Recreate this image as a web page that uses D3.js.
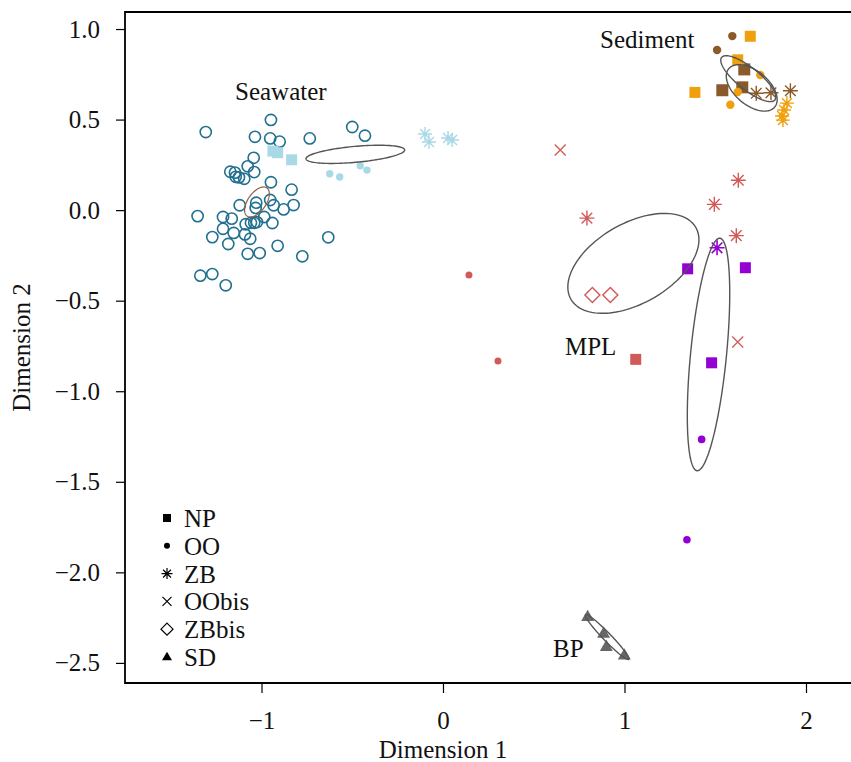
<!DOCTYPE html>
<html>
<head>
<meta charset="utf-8">
<script src="https://cdn.jsdelivr.net/npm/d3@7"></script>
<style>
  html, body { margin: 0; padding: 0; background: #fff; }
  svg { display: block; }
  text { font-family: "Liberation Serif", "Times New Roman", serif; }
</style>
</head>
<body>
<svg id="chart" width="851" height="762"></svg>
<script>
// ---------------- DATA ----------------
const xTicks = [-1, 0, 1, 2];
const yTicks = [1.0, 0.5, 0.0, -0.5, -1.0, -1.5, -2.0, -2.5];
const legendLabels = ["NP", "OO", "ZB", "OObis", "ZBbis", "SD"];
const groupLabels = ["Seawater", "Sediment", "MPL", "BP"];
const groupLabelPos = [[-1.146, 0.607], [0.865, 0.895], [0.672, -0.801], [0.606, -2.468]];

// Seawater – open circles
const seawaterOpen = [
  [-1.307,0.431],[-0.948,0.498],[-1.036,0.405],[-0.952,0.396],[-0.900,0.378],[-0.734,0.396],
  [-0.500,0.459],[-0.430,0.411],[-1.043,0.289],[-1.076,0.242],[-1.040,0.210],[-1.172,0.212],
  [-1.146,0.207],[-1.142,0.184],[-1.124,0.181],[-1.095,0.173],[-0.948,0.154],[-0.834,0.113],
  [-1.352,-0.033],[-1.120,0.027],[-1.029,0.041],[-1.032,0.012],[-0.952,0.056],[-0.933,0.027],
  [-0.878,0.004],[-0.823,0.028],[-1.212,-0.038],[-1.164,-0.047],[-0.985,-0.038],[-1.087,-0.078],
  [-1.058,-0.070],[-1.040,-0.070],[-1.025,-0.066],[-0.940,-0.071],[-1.212,-0.103],[-1.153,-0.126],
  [-1.091,-0.134],[-1.062,-0.158],[-1.271,-0.149],[-1.183,-0.187],[-0.911,-0.197],[-1.076,-0.241],
  [-1.010,-0.237],[-0.775,-0.255],[-0.632,-0.150],[-1.337,-0.362],[-1.271,-0.353],[-1.197,-0.415]
];
// Seawater – light blue
const seawaterNP = [[-0.937,0.326],[-0.911,0.317],[-0.834,0.278]];
const seawaterOO = [[-0.624,0.201],[-0.569,0.183],[-0.456,0.245],[-0.419,0.221]];
const seawaterZB = [[-0.099,0.420],[-0.077,0.376],[0.028,0.398],[0.050,0.387]];
// Sediment – brown
const sedBrownOO = [[1.594,0.961],[1.510,0.884]];
const sedBrownNP = [[1.660,0.777],[1.539,0.662],[1.649,0.678]];
const sedBrownZB = [[1.726,0.645],[1.807,0.648],[1.914,0.659]];
// Sediment – orange
const sedOrangeNP = [[1.693,0.960],[1.624,0.830],[1.388,0.650]];
const sedOrangeOO = [[1.748,0.746],[1.624,0.652],[1.583,0.582]];
const sedOrangeZB = [[1.895,0.591],[1.879,0.553],[1.868,0.520],[1.873,0.497]];
// MPL – red
const mplRedOObis = [[0.646,0.332],[1.624,-0.728]];
const mplRedZB = [[1.627,0.165],[1.495,0.032],[0.793,-0.044],[1.616,-0.141]];
const mplRedZBbis = [[0.823,-0.469],[0.922,-0.469]];
const mplRedOO = [[0.143,-0.358],[0.303,-0.833]];
const mplRedNP = [[1.062,-0.824]];
// MPL – purple
const mplPurpleNP = [[1.348,-0.324],[1.666,-0.318],[1.480,-0.843]];
const mplPurpleZB = [[1.510,-0.208]];
const mplPurpleOO = [[1.425,-1.266],[1.344,-1.820]];
// BP – grey triangles
const bpSD = [[0.797,-2.245],[0.885,-2.337],[0.900,-2.411],[0.999,-2.457]];

// Ellipses: [cx, cy, semi-major, semi-minor, angle (deg)]
const ellSeawaterA = [-0.483, 0.308, 0.273, 0.044, 5.2];
const ellSeawaterB = [-1.025, 0.045, 0.095, 0.050, 55];
const ellSedimentA = [1.682, 0.726, 0.188, 0.061, -38.7];
const ellSedimentB = [1.701, 0.675, 0.165, 0.094, -40];
const ellMPLRed = [1.049, -0.294, 0.397, 0.221, 30];
const ellMPLPurple = [1.463, -0.797, 0.645, 0.099, 84.4];
const ellBP = [0.904, -2.357, 0.171, 0.022, -46];

// ---------------- STYLE ----------------
const C = {
  teal: "#22708f", lightblue: "#a9d9e6", brown: "#8b5a2b", orange: "#f0a00c",
  red: "#d05a58", purple: "#9400d3", grey: "#686868", ell: "#555555", ellBrown: "#8f5f45"
};

const svg = d3.select("#chart");
const W = 851, H = 762;
const plot = { left: 125, top: 12, right: 853, bottom: 683 };

const x = d3.scaleLinear().domain([-1.752, 2.259]).range([plot.left, plot.right]);
const y = d3.scaleLinear().domain([-2.611, 1.094]).range([plot.bottom, plot.top]);

// shape path generators (pixel radius r)
const shapes = {
  square: r => `M${-r},${-r}h${2*r}v${2*r}h${-2*r}Z`,
  asterisk: r => {
    const d = r * Math.SQRT1_2;
    return `M${-r},0H${r}M0,${-r}V${r}M${-d},${-d}L${d},${d}M${-d},${d}L${d},${-d}`;
  },
  cross: r => `M${-r},${-r}L${r},${r}M${-r},${r}L${r},${-r}`,
  diamond: r => `M0,${-r}L${r},0L0,${r}L${-r},0Z`,
  triangle: r => { const h = r * 1.732; return `M0,${-h*0.62}L${r},${h*0.38}L${-r},${h*0.38}Z`; }
};

const gMarks = svg.append("g");

function drawCircles(data, r, color, filled, sw) {
  gMarks.append("g").selectAll("circle").data(data).join("circle")
    .attr("cx", d => x(d[0])).attr("cy", d => y(d[1])).attr("r", r)
    .attr("fill", filled ? color : "none")
    .attr("stroke", filled ? "none" : color)
    .attr("stroke-width", sw || 1.6);
}
function drawShape(data, shape, r, color, filled, sw) {
  gMarks.append("g").selectAll("path").data(data).join("path")
    .attr("transform", d => `translate(${x(d[0])},${y(d[1])})`)
    .attr("d", shapes[shape](r))
    .attr("fill", filled ? color : "none")
    .attr("stroke", filled ? "none" : color)
    .attr("stroke-width", sw || 1.3);
}
function drawEllipse(e, color, sw) {
  const [cx, cy, a, b, ang] = e;
  const t = ang * Math.PI / 180;
  const pts = d3.range(0, 361, 3).map(deg => {
    const s = deg * Math.PI / 180;
    const ux = a * Math.cos(s), vy = b * Math.sin(s);
    return [x(cx + ux * Math.cos(t) - vy * Math.sin(t)), y(cy + ux * Math.sin(t) + vy * Math.cos(t))];
  });
  svg.append("path").attr("d", d3.line().curve(d3.curveLinearClosed)(pts))
    .attr("fill", "none").attr("stroke", color).attr("stroke-width", sw || 1.4);
}

// Ellipses
drawEllipse(ellSeawaterA, C.ell);
drawEllipse(ellSeawaterB, C.ellBrown, 1.2);
drawEllipse(ellSedimentA, C.ell);
drawEllipse(ellSedimentB, C.ell);
drawEllipse(ellMPLRed, C.ell);
drawEllipse(ellMPLPurple, C.ell);
drawEllipse(ellBP, C.ell, 1.4);

// Seawater
drawCircles(seawaterOpen, 5.6, C.teal, false, 1.6);
drawShape(seawaterNP, "square", 5.5, C.lightblue, true);
drawCircles(seawaterOO, 3.7, C.lightblue, true);
drawShape(seawaterZB, "asterisk", 7, C.lightblue, false, 1.4);
// Sediment
drawCircles(sedBrownOO, 4.2, C.brown, true);
drawShape(sedBrownNP, "square", 6, C.brown, true);
drawShape(sedBrownZB, "asterisk", 7.5, C.brown, false, 1.4);
drawShape(sedOrangeNP, "square", 5.5, C.orange, true);
drawCircles(sedOrangeOO, 4.2, C.orange, true);
drawShape(sedOrangeZB, "asterisk", 7, C.orange, false, 1.4);
// MPL
drawShape(mplRedOObis, "cross", 5.5, C.red, false, 1.3);
drawShape(mplRedZB, "asterisk", 7.5, C.red, false, 1.4);
drawShape(mplRedZBbis, "diamond", 7.5, C.red, false, 1.4);
drawCircles(mplRedOO, 3.5, C.red, true);
drawShape(mplRedNP, "square", 5.5, C.red, true);
drawShape(mplPurpleNP, "square", 5.5, C.purple, true);
drawShape(mplPurpleZB, "asterisk", 7.5, C.purple, false, 1.6);
drawCircles(mplPurpleOO, 3.8, C.purple, true);
// BP
drawShape(bpSD, "triangle", 6.5, C.grey, true);

// Axes
const fontSize = 25;
const yAxis = d3.axisLeft(y).tickValues(yTicks).tickFormat(d3.format(".1f")).tickSize(9).tickPadding(16);
const gy = svg.append("g").attr("transform", `translate(${plot.left},0)`).call(yAxis);
const xAxis = d3.axisBottom(x).tickValues(xTicks).tickFormat(d3.format("d")).tickSize(10).tickPadding(18);
const gx = svg.append("g").attr("transform", `translate(0,${plot.bottom})`).call(xAxis);
[gx, gy].forEach(g => {
  g.select(".domain").remove();
  g.selectAll(".tick line").attr("stroke", "#000").attr("stroke-width", 1.2);
  g.selectAll(".tick text").attr("fill", "#111").style("font-size", fontSize + "px")
    .style("font-family", '"Liberation Serif", "Times New Roman", serif');
});

// Box
svg.append("path")
  .attr("d", `M${plot.right},${plot.top}H${plot.left}V${plot.bottom}H${plot.right}`)
  .attr("fill", "none").attr("stroke", "#000").attr("stroke-width", 1.8);

// Axis titles
svg.append("text").attr("x", x(0)).attr("y", 758).attr("text-anchor", "middle")
  .style("font-size", fontSize + "px").attr("fill", "#111").text("Dimension 1");
svg.append("text").attr("transform", `translate(30,${(plot.top + plot.bottom) / 2}) rotate(-90)`)
  .attr("text-anchor", "middle").style("font-size", fontSize + "px").attr("fill", "#111").text("Dimension 2");

// Group labels
svg.append("g").selectAll("text").data(groupLabels).join("text")
  .attr("x", (d, i) => x(groupLabelPos[i][0])).attr("y", (d, i) => y(groupLabelPos[i][1]))
  .style("font-size", fontSize + "px").attr("fill", "#111").text(d => d);

// Legend
const legendShapes = ["square", "circle", "asterisk", "cross", "diamond", "triangle"];
const legendR = { square: 4, circle: 3, asterisk: 5.5, cross: 4.5, diamond: 6, triangle: 5 };
const legendFilled = { square: true, circle: true, asterisk: false, cross: false, diamond: false, triangle: true };
const lg = svg.append("g").attr("transform", "translate(167,518)");
const rowH = 27.8;
legendLabels.forEach((lab, i) => {
  const sh = legendShapes[i];
  const row = lg.append("g").attr("transform", `translate(0,${i * rowH})`);
  if (sh === "circle") {
    row.append("circle").attr("r", legendR.circle).attr("fill", "#000");
  } else {
    row.append("path").attr("d", shapes[sh](legendR[sh]))
      .attr("fill", legendFilled[sh] ? "#000" : "none")
      .attr("stroke", legendFilled[sh] ? "none" : "#000").attr("stroke-width", 1.2);
  }
  row.append("text").attr("x", 17).attr("y", 9).style("font-size", fontSize + "px")
    .attr("fill", "#111").text(lab);
});
</script>
</body>
</html>
